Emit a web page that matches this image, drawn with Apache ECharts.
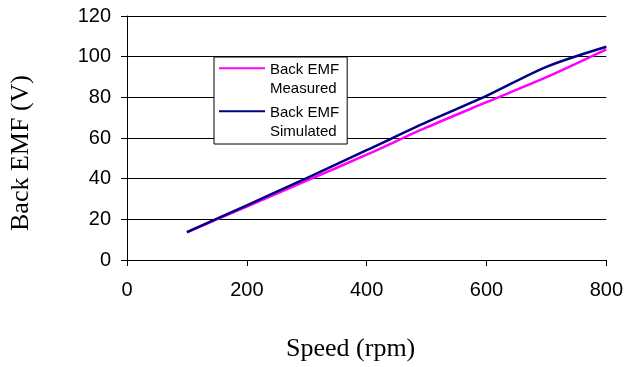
<!DOCTYPE html>
<html>
<head>
<meta charset="utf-8">
<script src="https://cdn.jsdelivr.net/npm/echarts@6/dist/echarts.min.js"></script>
<style>html,body{margin:0;padding:0;background:#fff;}#c{width:626px;height:367px;}</style>
</head>
<body>
<div id="c"></div>
<script>
const speed = [100, 200, 300, 400, 500, 600, 700, 800];
const measured = [13.6, 26.3, 39.0, 51.8, 65.2, 77.6, 89.9, 103.6];
const simulated = [13.7, 26.9, 40.3, 54.0, 67.8, 80.7, 95.0, 104.9];
const seriesNames = ['Back EMF\nMeasured', 'Back EMF\nSimulated'];
const xTitle = 'Speed (rpm)';
const yTitle = 'Back EMF (V)';

const icon = 'path://M0,0h0.01v0.01h-0.01z M0,6.3h46v2h-46z M0,36.99h0.01v0.01h-0.01z';

const chart = echarts.init(document.getElementById('c'), null, {renderer: 'canvas'});
chart.setOption({
  animation: false,
  backgroundColor: '#fff',
  grid: {left: 127, right: 18, top: 16, bottom: 107, containLabel: false},
  legend: {
    data: seriesNames,
    orient: 'vertical',
    left: 214, top: 57,
    padding: [4, 8, 3, 5],
    itemGap: 6,
    itemWidth: 46, itemHeight: 37,
    icon: icon,
    itemStyle: {borderWidth: 0},
    borderColor: '#000', borderWidth: 1, backgroundColor: '#fff',
    textStyle: {fontFamily: 'Liberation Sans', fontSize: 15, lineHeight: 18.5, color: '#000'},
    z: 10
  },
  xAxis: {
    type: 'value', min: 0, max: 800, interval: 200,
    name: xTitle, nameLocation: 'middle', nameGap: 76,
    nameTextStyle: {fontFamily: 'Liberation Serif', fontSize: 26, color: '#000', padding: [0, 32, 0, 0]},
    axisLine: {show: true, lineStyle: {color: '#000', width: 1}},
    axisTick: {show: true, length: 6, lineStyle: {color: '#000'}},
    axisLabel: {fontFamily: 'Liberation Sans', fontSize: 20, color: '#000', margin: 20},
    splitLine: {show: false}
  },
  yAxis: {
    type: 'value', min: 0, max: 120, interval: 20,
    name: yTitle, nameLocation: 'middle', nameGap: 93,
    nameTextStyle: {fontFamily: 'Liberation Serif', fontSize: 26, color: '#000', padding: [0, 30, 0, 0]},
    axisLine: {show: true, lineStyle: {color: '#000', width: 1}},
    axisTick: {show: true, length: 6, lineStyle: {color: '#000'}},
    axisLabel: {fontFamily: 'Liberation Sans', fontSize: 20, color: '#000', margin: 16},
    splitLine: {show: true, lineStyle: {color: '#000', width: 1}}
  },
  series: [
    {
      name: seriesNames[0], type: 'line', smooth: 0.3, showSymbol: false, symbol: 'none',
      data: speed.map((s, i) => [s, measured[i]]),
      lineStyle: {color: '#FF00FF', width: 2.5},
      itemStyle: {color: '#FF00FF'}
    },
    {
      name: seriesNames[1], type: 'line', smooth: 0.3, showSymbol: false, symbol: 'none',
      data: speed.map((s, i) => [s, simulated[i]]),
      lineStyle: {color: '#000080', width: 2.5},
      itemStyle: {color: '#000080'}
    }
  ]
});
</script>
</body>
</html>
